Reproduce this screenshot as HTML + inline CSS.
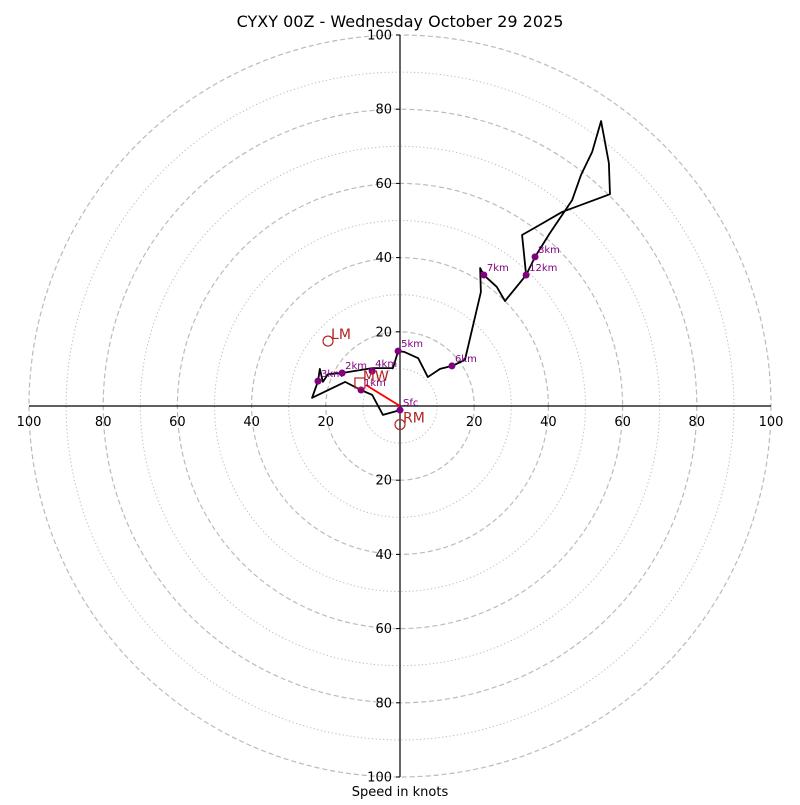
<!DOCTYPE html>
<html><head><meta charset="utf-8"><style>
html,body{margin:0;padding:0;background:#fff}
svg text{font-family:"DejaVu Sans","Liberation Sans",sans-serif}
</style></head><body>
<svg id="chart" width="800" height="800" viewBox="0 0 800 800" xmlns="http://www.w3.org/2000/svg">
<rect width="800" height="800" fill="#fff"/>
<text x="400" y="27" text-anchor="middle" font-size="16">CYXY 00Z - Wednesday October 29 2025</text>
<g id="rings"></g>
<g id="axes"></g>
<g id="series"></g>
<text x="400" y="796" text-anchor="middle" font-size="13">Speed in knots</text>
</svg>
<script>
const ringValues=[10,20,30,40,50,60,70,80,90,100];
const tickValues=[20,40,60,80,100];
const windU=[0,-4.6,-7.5,-10.5,-14.8,-23.7,-22.1,-21.6,-20.8,-19.4,-15.6,-7.5,-1.9,-0.5,1.1,4.9,7.5,10.8,14.0,17.5,21.8,21.6,22.6,26.1,28.3,34.0,36.4,40.4,46.4,48.8,51.8,54.2,56.3,56.6,43.7,38.5,32.9,34.0];
const windV=[-1.1,-2.4,3.0,4.3,6.5,2.2,6.7,10.0,6.5,8.6,8.9,10.2,10.2,14.8,14.6,12.9,7.8,10.0,10.8,12.4,30.7,37.2,35.3,32.1,28.3,35.3,40.2,46.6,55.5,62.3,68.5,76.8,65.5,57.1,52.3,49.3,46.1,35.3];
const markerLabels=["Sfc","1km","2km","3km","4km","5km","6km","7km","8km","12km"];
const markerU=[0,-10.5,-15.6,-22.1,-7.5,-0.5,14.0,22.6,36.4,34.0];
const markerV=[-1.1,4.3,8.9,6.7,9.4,14.8,10.8,35.3,40.2,35.3];
const stormLabels=["RM","LM","MW"];
const stormU=[0,-19.4,-10.8];
const stormV=[-5.0,17.5,6.2];

const NS="http://www.w3.org/2000/svg";
const cx=400,cy=406,k=3.71;
const X=u=>cx+u*k, Y=v=>cy-v*k;
function mk(t,a,p){const e=document.createElementNS(NS,t);for(const n in a)e.setAttribute(n,a[n]);p.appendChild(e);return e;}
const rings=document.getElementById('rings');
ringValues.forEach(r=>{
  const c=mk('circle',{cx:cx,cy:cy,r:r*k,fill:'none',stroke:'#bbb','stroke-width':r%20===0?1.2:1,'stroke-dasharray':r%20===0?'5,3':'1.2,2.5'},rings);
  
  
});
const axes=document.getElementById('axes');
const vl=mk('line',{x1:cx,y1:Y(100),x2:cx,y2:Y(-100),stroke:'#000','stroke-width':1.2},axes);


const hl=mk('line',{x1:X(-100),y1:cy,x2:X(100),y2:cy,stroke:'#000','stroke-width':1.2},axes);


tickValues.forEach(t=>{
  [1,-1].forEach(s=>{
    const y=Y(t*s);
    mk('line',{x1:cx-4,y1:y,x2:cx,y2:y,stroke:'#000'},axes);
    const tl=mk('text',{x:cx-8,y:y+4.5,'text-anchor':'end','font-size':13},axes);
    tl.textContent=t;
    
    
    const xl=mk('text',{x:X(t*s),y:cy+20,'text-anchor':'middle','font-size':13},axes);
    xl.textContent=t;
    
    
  });
});
const g=document.getElementById('series');
const pts=windU.map((u,i)=>X(u)+','+Y(windV[i])).join(' ');
const pl=mk('polyline',{points:pts,fill:'none',stroke:'#000','stroke-width':1.8,'stroke-linejoin':'round'},g);


// red shear vector sfc -> MW
const rl=mk('line',{x1:X(0),y1:Y(0),x2:X(stormU[2])+6,y2:Y(stormV[2])+2,stroke:'red','stroke-width':1.8},g);


markerLabels.forEach((l,i)=>{
  const d=mk('circle',{cx:X(markerU[i]),cy:Y(markerV[i]),r:3.5,fill:'purple'},g);
  
  
  const t=mk('text',{x:X(markerU[i])+3,y:Y(markerV[i])-4,'font-size':10,fill:'purple'},g);
  t.textContent=l;
  
  
});
stormLabels.forEach((l,i)=>{
  const x=X(stormU[i]),y=Y(stormV[i]);
  let s;
  if(l==='MW') s=mk('rect',{x:x-5,y:y-5,width:10,height:10,fill:'none',stroke:'firebrick','stroke-width':1.2},g);
  else s=mk('circle',{cx:x,cy:y,r:5,fill:'none',stroke:'firebrick','stroke-width':1.2},g);
  
  
  const t=mk('text',{x:x+3,y:y-2,'font-size':14,fill:'firebrick'},g);
  t.textContent=l;
  
  
});
</script>
</body></html>
